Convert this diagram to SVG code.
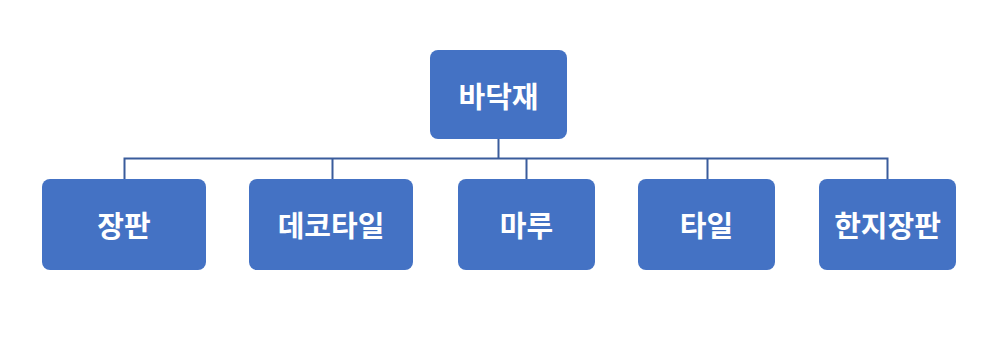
<svg xmlns="http://www.w3.org/2000/svg" width="998" height="339" viewBox="0 0 998 339">
<style>
.box{fill:#4472C4;}
.lbl{fill:#fff;font-family:"Noto Sans CJK KR","Noto Sans",sans-serif;font-weight:bold;font-size:29px;text-anchor:middle;dominant-baseline:central;}
.con{fill:none;stroke:#3A5C9C;stroke-width:2;}
</style>
<rect width="998" height="339" fill="#fff"/>
<g id="connectors">
<path class="con" d="M498.5 139V158.5M124.5 179V158.5H887.5V179M332.5 158.5V179M526.5 158.5V179M707.5 158.5V179"/>
</g>
<g id="root"><rect class="box" x="430" y="50" width="137" height="89" rx="8"/><text class="lbl" x="498.5" y="95">바닥재</text></g>
<g id="n1"><rect class="box" x="42" y="179" width="164" height="91" rx="8"/><text class="lbl" x="124" y="224">장판</text></g>
<g id="n2"><rect class="box" x="249" y="179" width="164" height="91" rx="8"/><text class="lbl" x="331" y="224">데코타일</text></g>
<g id="n3"><rect class="box" x="458" y="179" width="137" height="91" rx="8"/><text class="lbl" x="526.5" y="224">마루</text></g>
<g id="n4"><rect class="box" x="638" y="179" width="137" height="91" rx="8"/><text class="lbl" x="706.5" y="224">타일</text></g>
<g id="n5"><rect class="box" x="819" y="179" width="137" height="91" rx="8"/><text class="lbl" x="887.5" y="224">한지장판</text></g>
</svg>
